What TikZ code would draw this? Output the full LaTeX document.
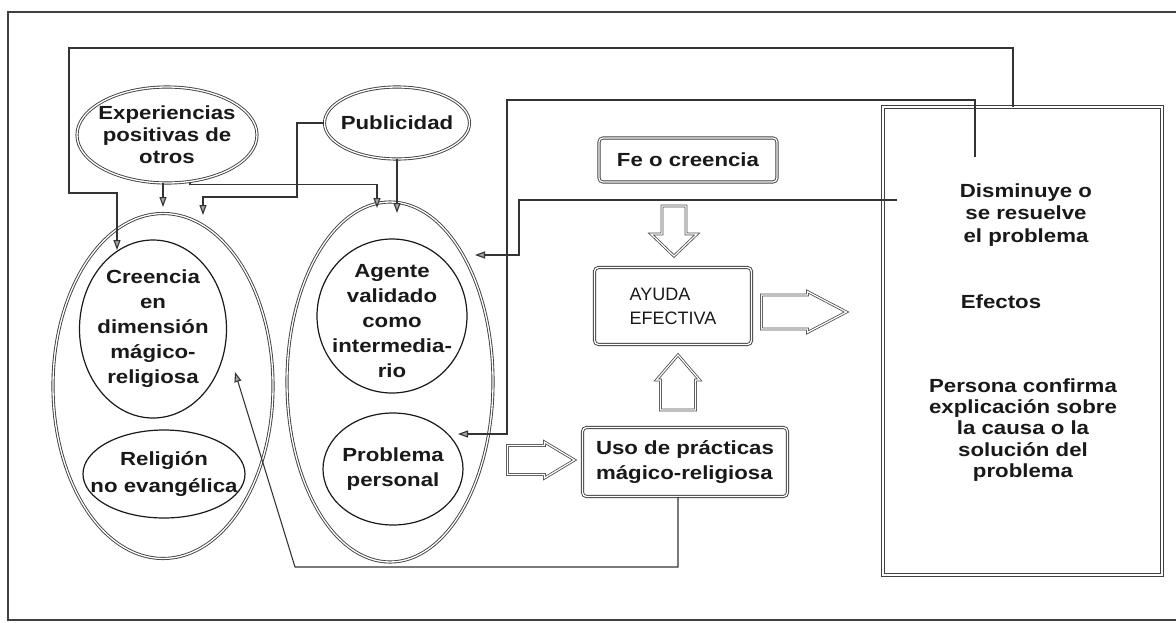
\documentclass[tikz,border=0pt]{standalone}
\usepackage{fontspec}
\setmainfont{Liberation Sans}[FakeStretch=1.17]
\newfontfamily\plainfont{Liberation Sans}
\usetikzlibrary{shapes.geometric,arrows.meta,calc}

\newcommand{\bigarrow}[4]{%
  \draw[blockarrow] (0,#2/2) -- (#1-#4,#2/2) -- (#1-#4,#3/2) -- (#1,0)
    -- (#1-#4,-#3/2) -- (#1-#4,-#2/2) -- (0,-#2/2) -- cycle;}

\begin{document}
\begin{tikzpicture}[x=1pt,y=-1pt,
    txt/.style={font=\fontsize{19}{25}\selectfont\bfseries,text=black!90,align=center},
    bubble/.style={ellipse,draw=black!75,double,line width=0.9pt,double distance=1.3pt,inner sep=0pt},
    ring/.style={ellipse,draw=black!90,line width=1.2pt,inner sep=0pt},
    panel/.style={rectangle,rounded corners=4pt,draw=black!75,double,line width=0.9pt,double distance=1.3pt,inner sep=0pt},
    link/.style={draw=black!80,line width=1.1pt},
    tip/.style={-{Triangle[length=10pt,width=7pt,fill=black!35]}},
    blockarrow/.style={draw=black!70,double,line width=0.8pt,double distance=1.2pt,line join=miter}]
  \useasboundingbox (0,0) rectangle (1176,622);
  \draw[line width=1.6pt,draw=black!75] (1176,12) -- (8,12) -- (8,620) -- (1176,620);

  \node[bubble,minimum width=220pt,minimum height=345pt] (grp1) at (163,386) {};
  \node[ring,minimum width=147pt,minimum height=178pt,
    label={[txt]center:{Creencia\\en\\dimensión\\mágico-\\religiosa}}] (cre) at (153,329) {};
  \node[ring,minimum width=162pt,minimum height=88pt,
    label={[txt,font=\fontsize{19}{27}\selectfont\bfseries]center:{Religión\\no evangélica}}] (rel) at (164,474) {};
  \node[bubble,minimum width=206pt,minimum height=360pt] (grp2) at (390,382) {};
  \node[ring,minimum width=150pt,minimum height=154pt,
    label={[txt,yshift=-5pt]center:{Agente\\validado\\como\\intermedia-\\rio}}] (age) at (392,316) {};
  \node[ring,minimum width=140pt,minimum height=112pt,
    label={[txt]center:{Problema\\personal}}] (pro) at (393,469) {};
  \node[bubble,minimum width=180pt,minimum height=96pt,
    label={[txt,font=\fontsize{19}{22}\selectfont\bfseries]center:{Experiencias\\positivas de\\otros}}] (exp) at (167,135) {};
  \node[bubble,minimum width=145pt,minimum height=72pt,
    label={[txt]center:{Publicidad}}] (pub) at (397,123) {};

  \node[panel,txt,minimum width=178pt,minimum height=44pt] (fe) at (688,160) {Fe o creencia};
  \node[panel,txt,font=\plainfont\fontsize{18}{24}\selectfont,align=left,
    minimum width=157pt,minimum height=77pt] (ayuda) at (673,306) {AYUDA\\EFECTIVA};
  \node[panel,txt,align=left,minimum width=205pt,minimum height=69pt] (uso) at (685,462)
    {Uso de prácticas\\mágico-religiosa};
  \node[panel,rounded corners=0pt,line width=1pt,minimum width=279pt,minimum height=468pt] (res) at (1022.5,341) {};
  \node[txt,font=\fontsize{19}{22.5}\selectfont\bfseries] (dis) at (1026,215) {Disminuye o\\se resuelve\\el problema};
  \node[txt] (efe) at (1001,302) {Efectos};
  \node[txt,font=\fontsize{19}{21.3}\selectfont\bfseries] (per) at (1023,430)
    {Persona confirma\\explicación sobre\\la causa o la\\solución del\\problema};

  \begin{scope}[shift={($(ayuda.north)+(1,-61)$)},rotate=-90]
    \bigarrow{50}{24}{46}{22}
  \end{scope}
  \begin{scope}[shift={($(ayuda.south)+(5,65)$)},rotate=90]
    \bigarrow{55}{35}{43}{25}
  \end{scope}
  \begin{scope}[shift={($(uso.west)+(-74.5,-2)$)}]
    \bigarrow{67}{29}{36}{30}
  \end{scope}
  \begin{scope}[shift={($(ayuda.east)+(9.5,6)$)}]
    \bigarrow{85}{34}{41}{39}
  \end{scope}

  \coordinate (e1) at (117,250);
  \coordinate (s2) at (975,157);
  \coordinate (e2) at (458,434);
  \coordinate (s3) at (897,200);
  \coordinate (e3) at (475,255);
  \coordinate (e4) at (235,372);
  \coordinate (e5) at (163,207);
  \coordinate (e6) at (377,208);
  \coordinate (e7) at (203,215);
  \coordinate (e8) at (397,213);

  \begin{scope}[link,tip]
    \draw ([xshift=-9.5pt]res.north) |- (69,48) -- (69,193) -| (e1);
    \draw (s2) |- (507,100) |- (e2);
    \draw (s3) -| (519,255) -- (e3);
    \draw ([xshift=-7pt]uso.south) |- (295,567) -- (e4);
    \draw ([xshift=-4pt]exp.south) -- (e5);
    \draw ([xshift=23pt]exp.south) -- ++(0,1) -| (e6);
    \draw (pub.west) -| (297,197) -| (e7);
    \draw (pub.south) -- (e8);
  \end{scope}
\end{tikzpicture}
\end{document}
